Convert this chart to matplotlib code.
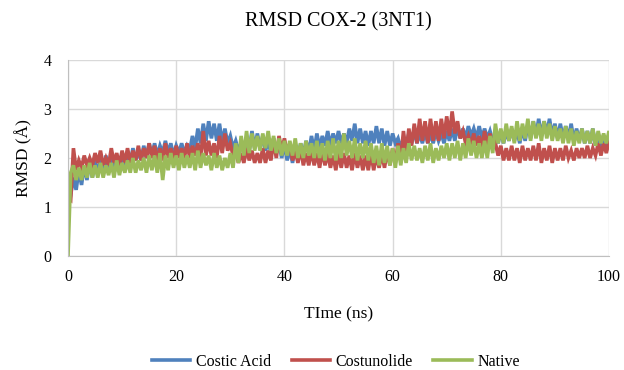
import numpy as np
from matplotlib import pyplot as plt

plt.rcParams['font.family'] = ['Liberation Serif', 'DejaVu Serif']

# RMSD traces: upper edge at whole ns, lower edge half a ns later
time_ns = np.arange(0, 101)

costic_hi = [1.3,
             1.6, 1.75, 1.85, 1.95, 1.95, 2.0, 2.05, 1.95, 2.05, 2.1,
             2.1, 2.2, 2.15, 2.25, 2.3, 2.3, 2.25, 2.35, 2.3, 2.25,
             2.3, 2.25, 2.45, 2.6, 2.7, 2.75, 2.7, 2.7, 2.6, 2.45,
             2.35, 2.3, 2.4, 2.55, 2.5, 2.45, 2.35, 2.4, 2.3, 2.3,
             2.2, 2.25, 2.3, 2.35, 2.45, 2.5, 2.45, 2.55, 2.5, 2.55,
             2.5, 2.6, 2.7, 2.6, 2.55, 2.55, 2.65, 2.6, 2.55, 2.5,
             2.4, 2.4, 2.5, 2.55, 2.5, 2.55, 2.5, 2.55, 2.5, 2.55,
             2.6, 2.65, 2.6, 2.65, 2.6, 2.65, 2.6, 2.55, 2.5, 2.55,
             2.55, 2.6, 2.55, 2.6, 2.7, 2.75, 2.8, 2.75, 2.8, 2.7,
             2.7, 2.65, 2.7, 2.6, 2.6, 2.55, 2.6, 2.5, 2.45, 2.5]
costic_lo = [1.25,
             1.35, 1.45, 1.55, 1.6, 1.65, 1.7, 1.75, 1.8, 1.8, 1.85,
             1.9, 1.95, 1.95, 2.0, 2.05, 2.05, 2.1, 2.1, 2.05, 2.1,
             2.1, 2.15, 2.2, 2.3, 2.35, 2.4, 2.35, 2.3, 2.3, 2.2,
             2.15, 2.1, 2.15, 2.2, 2.2, 2.15, 2.1, 2.1, 2.0, 1.95,
             1.9, 2.0, 2.05, 2.1, 2.15, 2.2, 2.25, 2.25, 2.3, 2.3,
             2.3, 2.35, 2.3, 2.3, 2.25, 2.3, 2.3, 2.25, 2.25, 2.3,
             2.2, 2.25, 2.3, 2.3, 2.3, 2.3, 2.3, 2.35, 2.3, 2.35,
             2.35, 2.4, 2.4, 2.45, 2.4, 2.4, 2.4, 2.35, 2.3, 2.3,
             2.35, 2.35, 2.3, 2.35, 2.4, 2.45, 2.45, 2.5, 2.45, 2.4,
             2.4, 2.4, 2.35, 2.35, 2.3, 2.3, 2.25, 2.2, 2.15, 2.2]

costun_hi = [1.2,
             2.2, 1.95, 2.05, 2.0, 2.1, 2.15, 2.0, 2.2, 2.1, 2.15,
             2.2, 2.15, 2.25, 2.2, 2.3, 2.25, 2.2, 2.3, 2.2, 2.25,
             2.2, 2.3, 2.25, 2.3, 2.55, 2.35, 2.3, 2.45, 2.5, 2.3,
             2.15, 2.1, 2.2, 2.15, 2.1, 2.2, 2.15, 2.35, 2.45, 2.4,
             2.3, 2.15, 2.2, 2.1, 2.15, 2.1, 2.15, 2.1, 2.05, 2.1,
             2.1, 2.05, 2.1, 2.05, 2.05, 2.1, 2.05, 2.1, 2.15, 2.2,
             2.3, 2.55, 2.6, 2.7, 2.8, 2.75, 2.8, 2.75, 2.8, 2.85,
             2.95, 2.75, 2.55, 2.45, 2.5, 2.45, 2.55, 2.5, 2.3, 2.25,
             2.2, 2.25, 2.2, 2.25, 2.2, 2.25, 2.3, 2.2, 2.25, 2.2,
             2.2, 2.25, 2.15, 2.2, 2.2, 2.25, 2.2, 2.3, 2.3, 2.35]
costun_lo = [1.15,
             1.75, 1.8, 1.85, 1.85, 1.9, 1.85, 1.85, 1.9, 1.85, 1.9,
             1.9, 1.95, 1.95, 2.0, 2.0, 1.95, 1.95, 2.0, 1.95, 2.0,
             2.0, 2.0, 2.05, 2.0, 2.05, 2.05, 2.0, 2.1, 2.15, 2.05,
             1.9, 1.9, 1.95, 1.9, 1.9, 1.9, 1.95, 2.0, 2.15, 2.1,
             1.95, 1.9, 1.85, 1.85, 1.85, 1.8, 1.85, 1.8, 1.75, 1.8,
             1.8, 1.75, 1.8, 1.75, 1.75, 1.75, 1.8, 1.8, 1.85, 1.9,
             1.95, 2.1, 2.25, 2.3, 2.35, 2.3, 2.35, 2.35, 2.4, 2.45,
             2.5, 2.4, 2.3, 2.25, 2.25, 2.2, 2.25, 2.2, 2.05, 1.95,
             1.95, 1.95, 1.9, 1.95, 1.95, 1.95, 1.9, 1.95, 1.9, 1.95,
             1.95, 2.0, 1.95, 2.0, 2.0, 2.0, 2.05, 2.05, 2.1, 2.15]

native_hi = [0.0,
             1.85, 1.8, 1.85, 1.9, 1.85, 1.9, 1.85, 1.9, 1.95, 1.9,
             1.95, 2.0, 1.95, 2.0, 2.05, 2.05, 2.1, 2.05, 2.1, 2.05,
             2.1, 2.05, 2.1, 2.15, 2.1, 2.05, 2.1, 2.05, 2.0, 2.1,
             2.3, 2.45, 2.55, 2.5, 2.45, 2.5, 2.55, 2.45, 2.4, 2.35,
             2.35, 2.4, 2.3, 2.35, 2.3, 2.35, 2.3, 2.35, 2.4, 2.35,
             2.5, 2.35, 2.4, 2.3, 2.35, 2.3, 2.25, 2.3, 2.25, 2.2,
             2.25, 2.2, 2.3, 2.25, 2.2, 2.25, 2.3, 2.2, 2.25, 2.3,
             2.3, 2.35, 2.3, 2.4, 2.35, 2.3, 2.35, 2.45, 2.7, 2.6,
             2.7, 2.65, 2.75, 2.7, 2.8, 2.75, 2.7, 2.75, 2.7, 2.65,
             2.6, 2.65, 2.6, 2.55, 2.6, 2.55, 2.6, 2.55, 2.5, 2.55]
native_lo = [1.7,
             1.55, 1.55, 1.6, 1.6, 1.6, 1.6, 1.65, 1.6, 1.65, 1.7,
             1.7, 1.7, 1.75, 1.7, 1.75, 1.7, 1.55, 1.75, 1.8, 1.75,
             1.8, 1.8, 1.75, 1.8, 1.85, 1.75, 1.8, 1.75, 1.8, 1.8,
             1.9, 2.05, 2.1, 2.15, 2.15, 2.2, 2.15, 2.1, 2.05, 2.05,
             2.05, 2.0, 2.0, 2.05, 2.0, 2.0, 1.95, 2.0, 1.95, 2.0,
             2.05, 2.0, 1.95, 2.0, 1.95, 1.9, 1.85, 1.9, 1.85, 1.8,
             1.85, 1.9, 1.95, 1.95, 1.9, 1.95, 1.9, 1.95, 2.0, 1.95,
             2.0, 1.95, 2.0, 2.05, 2.0, 2.0, 2.0, 2.1, 2.3, 2.3,
             2.35, 2.3, 2.35, 2.4, 2.35, 2.4, 2.35, 2.4, 2.35, 2.35,
             2.3, 2.3, 2.25, 2.3, 2.3, 2.3, 2.25, 2.3, 2.3, 2.3]

names = ['Costic Acid', 'Costunolide', 'Native']
colors = ['#4F81BD', '#C0504D', '#9BBB59']


def zigzag(hi, lo):
    # alternate upper/lower readings so the trace keeps its noisy look
    x = np.empty(2 * len(time_ns))
    y = np.empty(2 * len(time_ns))
    x[0::2] = time_ns
    x[1::2] = time_ns + 0.5
    y[0::2] = hi
    y[1::2] = lo
    return x, y


fig = plt.figure(figsize=(6.24, 3.70), dpi=100)
ax = fig.add_axes([0.109, 0.308, 0.867, 0.530])

series = [(costic_hi, costic_lo), (costun_hi, costun_lo), (native_hi, native_lo)]
for (hi, lo), name, c in zip(series, names, colors):
    x, y = zigzag(hi, lo)
    ax.plot(x, y, color=c, lw=2.6, label=name, solid_joinstyle='miter')

ax.set_xlim(0, 100)
ax.set_ylim(0, 4)
ax.set_xticks(np.arange(0, 101, 20))
ax.set_yticks(np.arange(0, 5, 1))
ax.grid(True, color='#D9D9D9', lw=1)
ax.set_axisbelow(True)
for s in ['top', 'right']:
    ax.spines[s].set_visible(False)
for s in ['left', 'bottom']:
    ax.spines[s].set_color('#BFBFBF')
ax.tick_params(length=0, labelsize=11.5, pad=9)
ax.tick_params(axis='y', pad=12)

ax.set_title('RMSD COX-2 (3NT1)', fontsize=14.5, pad=24)
ax.set_xlabel('TIme (ns)', fontsize=12.5, labelpad=16)
ax.set_ylabel('RMSD (Å)', fontsize=12.5, labelpad=8)

ax.legend(loc='upper center', bbox_to_anchor=(0.495, -0.425), ncol=3,
          frameon=False, fontsize=11.5, handlelength=2.4, handletextpad=0.35,
          columnspacing=1.3)

fig.savefig('out.png', dpi=100)
